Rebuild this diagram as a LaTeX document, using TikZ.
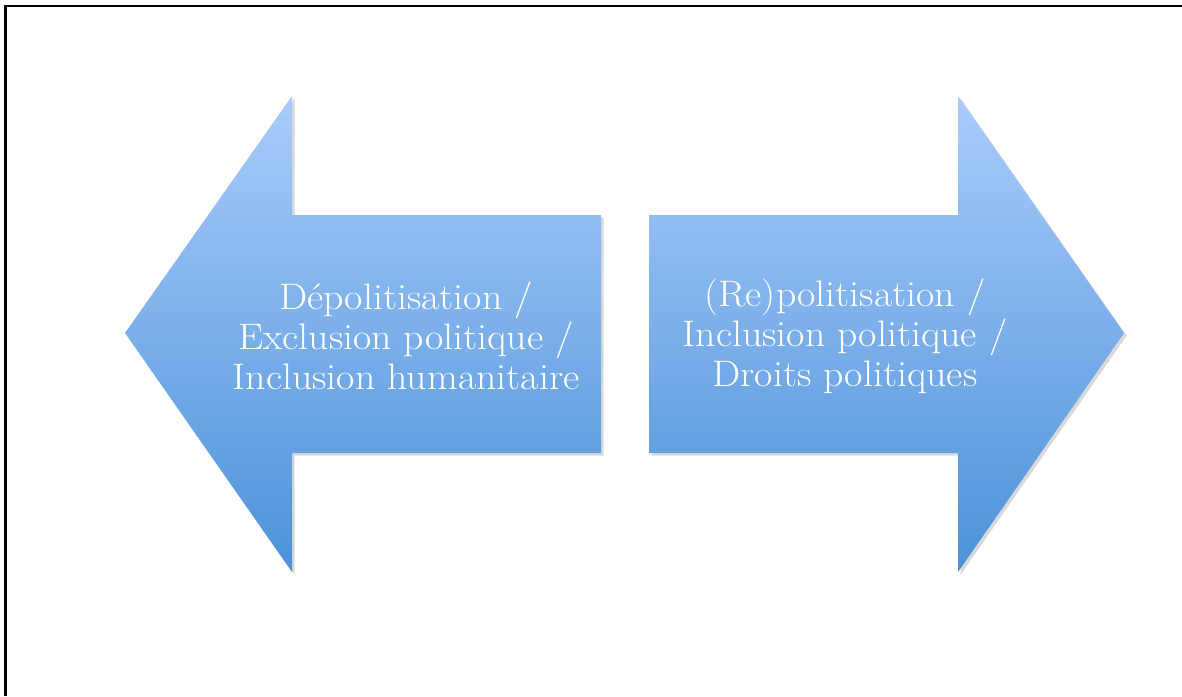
\documentclass[tikz,border=0pt]{standalone}
\usepackage{fontspec}
\usepackage{tikz}
\usetikzlibrary{shadows}

\newfontfamily\lblfont[FakeStretch=1.08]{Latin Modern Roman}
\definecolor{arrowtop}{RGB}{170,204,252}
\definecolor{arrowbot}{RGB}{76,146,216}

\begin{document}
\begin{tikzpicture}[
  x=0.02cm, y=-0.02cm,
  blockarrow/.style={top color=arrowtop, bottom color=arrowbot, draw=none,
    drop shadow={shadow xshift=1.5pt, shadow yshift=-1.5pt, opacity=0.25, fill=black!60}},
  lbl/.style={text=white, align=center, inner sep=0pt,
    font=\lblfont\fontsize{21pt}{22.7pt}\selectfont},
  frame/.style={line width=1.7pt, draw=black}
]
  \useasboundingbox (0,0) rectangle (1182,696);

  % Frame: only top and left edges are visible
  \draw[frame] (5.5,696) -- (5.5,6) -- (1182,6);

  % Left block arrow
  \path[blockarrow] (125,333) -- (292,96) -- (292,215) -- (601,215)
    -- (601,453) -- (292,453) -- (292,572) -- cycle;

  % Right block arrow
  \path[blockarrow] (1124,333) -- (958,96) -- (958,215) -- (649,215)
    -- (649,453) -- (958,453) -- (958,572) -- cycle;

  % Labels
  \node[lbl] (depol) at (406,336) {D\'epolitisation /\\Exclusion politique /\\Inclusion humanitaire};
  \node[lbl] (repol) at (845,336) {(Re)politisation /\\Inclusion politique /\\Droits politiques};

\end{tikzpicture}
\end{document}
